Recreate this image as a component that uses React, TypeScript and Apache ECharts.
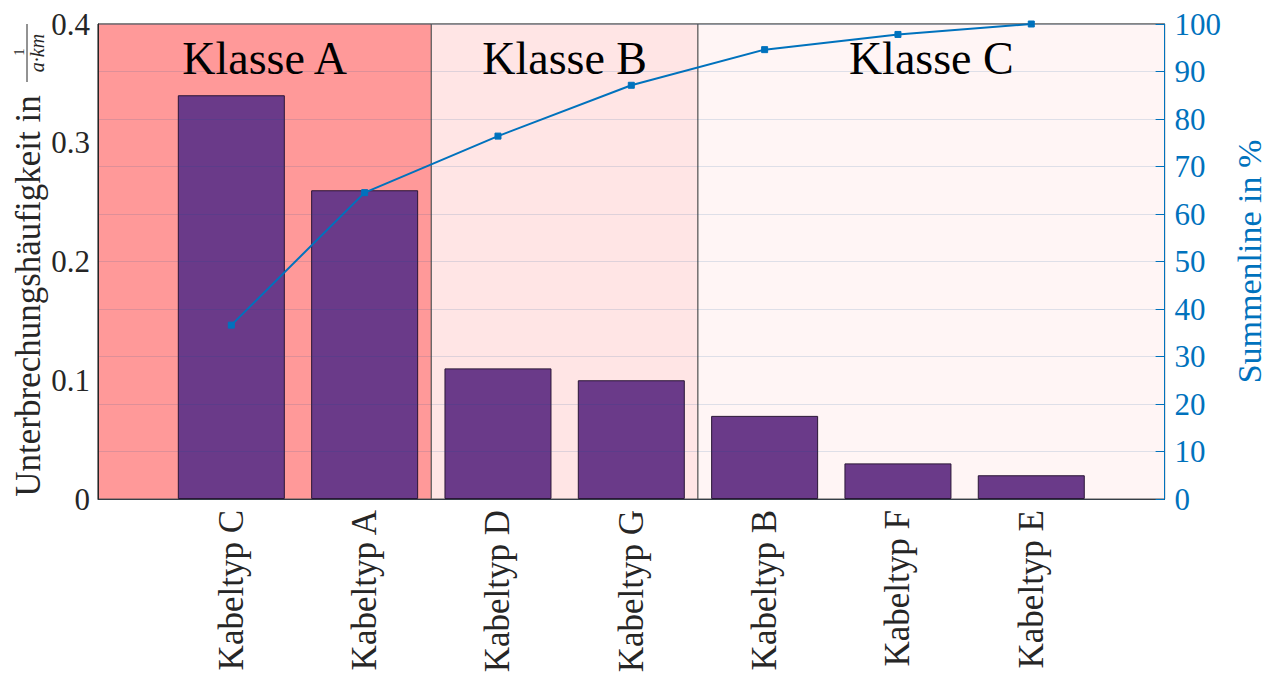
import React, { useEffect, useRef } from "react";
import * as echarts from "echarts";

const categories = ["Kabeltyp C", "Kabeltyp A", "Kabeltyp D", "Kabeltyp G", "Kabeltyp B", "Kabeltyp F", "Kabeltyp E"];
const rates = [0.34, 0.26, 0.11, 0.10, 0.07, 0.03, 0.02];
const cumulative = [36.6, 64.5, 76.4, 87.1, 94.6, 97.8, 100];
const classes = [
  { name: "Klasse A", from: 0, to: 2.5, color: "#ff9999" },
  { name: "Klasse B", from: 2.5, to: 4.5, color: "#ffe5e5" },
  { name: "Klasse C", from: 4.5, to: 8, color: "#fff5f5" },
];
const leftTicks = [0, 0.1, 0.2, 0.3, 0.4];

const FONT = "Liberation Serif";
const BLUE = "#0072BD";

export default function App() {
  const ref = useRef<HTMLDivElement>(null);
  useEffect(() => {
    const chart = echarts.init(ref.current!, undefined, { renderer: "svg" });
    const option: any = {
      animation: false,
      backgroundColor: "#ffffff",
      textStyle: { fontFamily: FONT },
      grid: {
        left: 98,
        right: 103,
        top: 24,
        bottom: 178,
        show: true,
        borderColor: "#666666",
        borderWidth: 1,
        backgroundColor: "transparent",
      },
      xAxis: {
        type: "value",
        min: 0,
        max: 8,
        interval: 1,
        axisLine: { show: true, lineStyle: { color: "#262626", width: 1 } },
        axisTick: { show: false },
        splitLine: { show: false },
        axisLabel: {
          rotate: 90,
          margin: 11,
          fontFamily: FONT,
          fontSize: 35,
          color: "#262626",
          formatter: (v: number) => (v >= 1 && v <= categories.length ? categories[v - 1] : ""),
        },
      },
      yAxis: [
        {
          type: "value",
          min: 0,
          max: 0.4,
          interval: 0.1,
          z: 10,
          axisLine: { show: true, lineStyle: { color: "#262626", width: 1 } },
          axisTick: { show: false },
          splitLine: { show: false },
          axisLabel: {
            margin: 8,
            fontFamily: FONT,
            fontSize: 31,
            color: "#262626",
            formatter: (v: number) => (leftTicks.some((t) => Math.abs(t - v) < 1e-9) ? String(Math.round(v * 10) / 10) : ""),
          },
        },
        {
          type: "value",
          min: 0,
          max: 100,
          interval: 10,
          position: "right",
          z: 10,
          axisLine: { show: true, lineStyle: { color: BLUE, width: 1 } },
          axisTick: { show: true, inside: true, length: 9, lineStyle: { color: BLUE } },
          splitLine: { show: true, lineStyle: { color: "rgba(0,80,150,0.13)", width: 1 } },
          axisLabel: { margin: 10, fontFamily: FONT, fontSize: 31, color: BLUE },
          name: "Summenline in %",
          nameLocation: "middle",
          nameRotate: 90,
          nameGap: 64,
          nameTextStyle: { fontFamily: FONT, fontSize: 34, color: BLUE },
        },
      ],
      series: [
        {
          type: "bar",
          xAxisIndex: 0,
          yAxisIndex: 0,
          barWidth: 107,
          data: rates.map((v, i) => [i + 1, v]),
          itemStyle: { color: "#6a3a89", borderColor: "#2a1636", borderWidth: 1 },
          markArea: {
            silent: true,
            data: classes.map((c) => [
              {
                xAxis: c.from,
                yAxis: 0,
                name: c.name,
                itemStyle: { color: c.color, borderColor: "#555555", borderWidth: 1 },
              },
              { xAxis: c.to, yAxis: 0.4 },
            ]),
            label: {
              show: true,
              position: "insideTop",
              distance: 12,
              fontFamily: FONT,
              fontSize: 46,
              color: "#000000",
            },
          },
        },
        {
          type: "line",
          xAxisIndex: 0,
          yAxisIndex: 1,
          z: 5,
          data: cumulative.map((v, i) => [i + 1, v]),
          lineStyle: { color: BLUE, width: 2 },
          itemStyle: { color: BLUE, borderColor: BLUE },
          symbol: "rect",
          symbolSize: 6,
        },
      ],
      graphic: [
        {
          type: "text",
          x: 28,
          y: 296,
          rotation: Math.PI / 2,
          style: {
            text: "Unterbrechungshäufigkeit in",
            fontFamily: FONT,
            fontSize: 35,
            fill: "#262626",
            align: "center",
            verticalAlign: "middle",
          },
        },
        {
          type: "text",
          x: 19,
          y: 52,
          rotation: Math.PI / 2,
          style: {
            text: "1",
            fontFamily: FONT,
            fontSize: 15,
            fill: "#262626",
            align: "center",
            verticalAlign: "middle",
          },
        },
        {
          type: "line",
          shape: { x1: 27, y1: 24, x2: 27, y2: 82 },
          style: { stroke: "#262626", lineWidth: 1 },
        },
        {
          type: "text",
          x: 37,
          y: 53,
          rotation: Math.PI / 2,
          style: {
            text: "a·km",
            fontFamily: FONT,
            fontStyle: "italic",
            fontSize: 20,
            fill: "#262626",
            align: "center",
            verticalAlign: "middle",
          },
        },
      ],
    };
    chart.setOption(option);
    return () => chart.dispose();
  }, []);
  return <div ref={ref} style={{ position: "fixed", left: 0, top: 0, width: 1274, height: 677 }} />;
}
